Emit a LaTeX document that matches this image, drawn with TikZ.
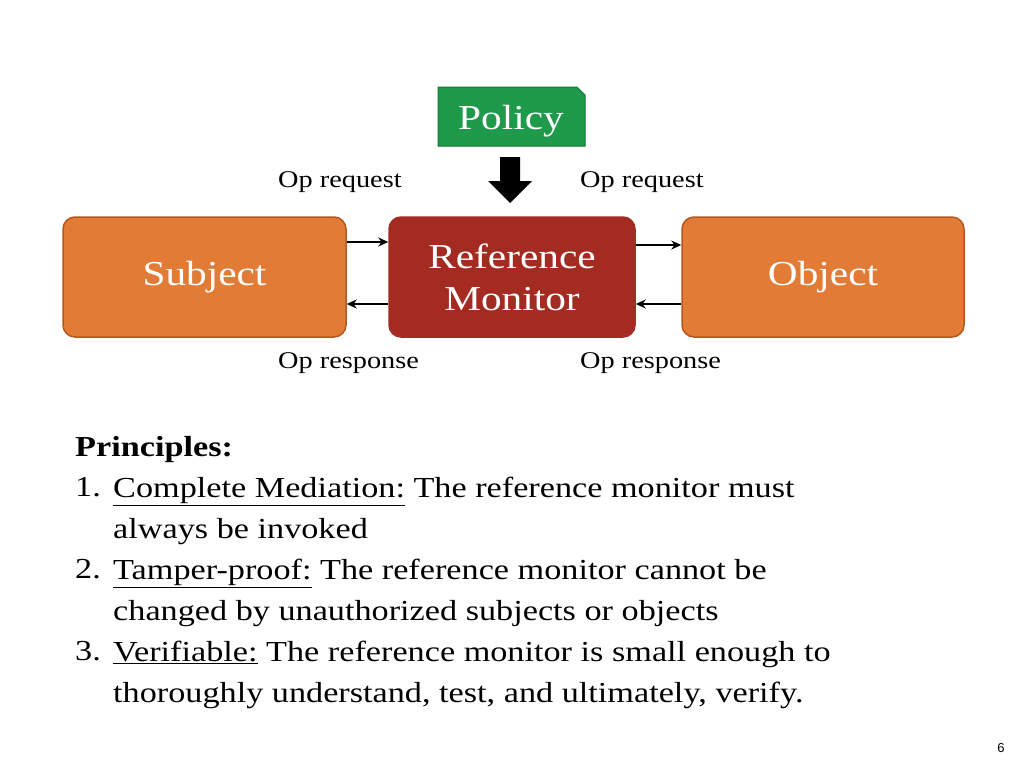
\documentclass[tikz,border=0pt]{standalone}
\usepackage{fontspec}
\setmainfont{Liberation Serif}[FakeStretch=1.18]
\newfontfamily\pgnum{Liberation Sans}
\usetikzlibrary{arrows.meta}
\definecolor{org}{HTML}{E27B36}
\definecolor{orgb}{HTML}{B5581F}
\definecolor{rmred}{HTML}{A42B22}
\definecolor{grn}{HTML}{1E9A4A}
\definecolor{grnb}{HTML}{127436}
\begin{document}
\begin{tikzpicture}[x=1pt,y=-1pt,
  box/.style={draw=orgb,line width=1.5pt,fill=org,rounded corners=12pt,text=white,font=\fontsize{35}{38}\selectfont,align=center},
  lbl/.style={font=\fontsize{24}{28}\selectfont,anchor=west,inner sep=0},
  con/.style={-{Stealth[length=10pt,width=9pt]},line width=1.5pt},
  txt/.style={font=\fontsize{29}{41}\selectfont,anchor=north west,inner sep=0,align=left}]
\useasboundingbox (0,0) rectangle (1024,768);
\fill[white] (0,0) rectangle (1024,768);
% policy
\draw[fill=grn,draw=grnb,line width=1pt] (438,87) -- (577,87) -- (585,95) -- (585,146) -- (438,146) -- cycle;
\node[text=white,font=\fontsize{35}{38}\selectfont] (pol) at (511,121) {Policy};
\fill (500,157) -- (520,157) -- (520,181) -- (532,181) -- (510,203) -- (488,181) -- (500,181) -- cycle;
\node[box,minimum width=283pt,minimum height=120pt] (s) at (204.5,277) {Subject};
\node[box,fill=rmred,draw=rmred,minimum width=246pt,minimum height=120pt,inner sep=0] (rm) at (512,277) {Reference\\[4pt]Monitor};
\node[box,minimum width=282pt,minimum height=120pt] (o) at (823,277) {Object};
\draw[con] (s.east|-0,242) -- (rm.west|-0,242);
\draw[con] (rm.west|-0,304) -- (s.east|-0,304);
\draw[con] (rm.east|-0,245) -- (o.west|-0,245);
\draw[con] (o.west|-0,304) -- (rm.east|-0,304);
\node[lbl] (l1) at (278,182) {Op request};
\node[lbl] (l2) at (580,182) {Op request};
\node[lbl] (l3) at (278,363) {Op response};
\node[lbl] (l4) at (580,363) {Op response};
\node[txt] (p) at (75,436) {\textbf{Principles:}};
\node[txt] (p1) at (75,477) {1.};
\node[txt] (p1t) at (113,477) {\underline{Complete Mediation:} The reference monitor must\\always be invoked};
\node[txt] (p2) at (75,559) {2.};
\node[txt] (p2t) at (113,559) {\underline{Tamper-proof:} The reference monitor cannot be\\changed by unauthorized subjects or objects};
\node[txt] (p3) at (75,641) {3.};
\node[txt] (p3t) at (113,641) {\underline{Verifiable:} The reference monitor is small enough to\\thoroughly understand, test, and ultimately, verify.};
\node[font=\pgnum\fontsize{13}{15}\selectfont] (pg) at (1001,748) {6};
\end{tikzpicture}
\end{document}
